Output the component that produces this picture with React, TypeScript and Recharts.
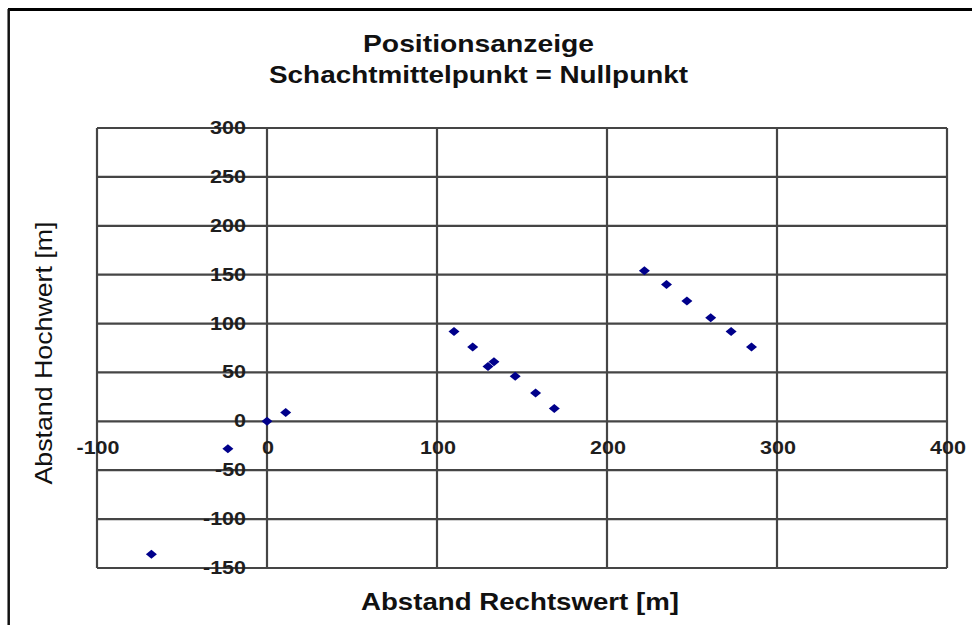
import React from "react";
import { ScatterChart, Scatter, XAxis, YAxis, CartesianGrid } from "recharts";

// Abstand Rechtswert / Hochwert [m] of each measured position
const rechtswert = [-68, -23, 0, 11, 110, 121, 130, 133.5, 146, 158, 169, 222, 235, 247, 261, 273, 285];
const hochwert = [-136, -28, 0, 9, 92, 76, 56, 61, 46, 29, 13, 154, 140, 123, 106, 92, 76];

const xTicks = [-100, 0, 100, 200, 300, 400];
const yTicks = [-150, -100, -50, 0, 50, 100, 150, 200, 250, 300];

const titleLines = ["Positionsanzeige", "Schachtmittelpunkt = Nullpunkt"];
const xTitle = "Abstand Rechtswert [m]";
const yTitle = "Abstand Hochwert [m]";

const points = rechtswert.map((x, i) => ({ x, y: hochwert[i] }));

const W = 972;
const H = 625;
const margin = { top: 128, right: 25, bottom: 56, left: 96 };
const xDomain: [number, number] = [-100, 400];
const yDomain: [number, number] = [-150, 300];

// plot area, used to put the tick labels next to the zero lines like Excel does
const plotLeft = margin.left + 1;
const plotW = W - margin.left - 1 - margin.right;
const plotTop = margin.top;
const plotH = H - margin.top - margin.bottom - 1;
const zeroX = plotLeft + ((0 - xDomain[0]) / (xDomain[1] - xDomain[0])) * plotW;
const zeroY = plotTop + ((yDomain[1] - 0) / (yDomain[1] - yDomain[0])) * plotH;

const font = "'Liberation Sans', Arial, sans-serif";
const tickStyle = { fontFamily: font, fontSize: 17.5, fontWeight: 700, fill: "#1e1e1e" };

// the old bitmap font is wider than Arial: 12px per digit, 7px for the minus
const labelWidth = (v: number) =>
  String(v).split("").reduce((w, c) => w + (c === "-" ? 7 : 12), 0);

const XTick = (props: any) => {
  const { x, payload } = props;
  return (
    <text
      x={x + 1}
      y={zeroY + 33}
      textAnchor="middle"
      textLength={labelWidth(payload.value)}
      lengthAdjust="spacingAndGlyphs"
      style={tickStyle}
    >
      {payload.value}
    </text>
  );
};

const YTick = (props: any) => {
  const { y, payload } = props;
  return (
    <text
      x={zeroX - 21}
      y={y + 6}
      textAnchor="end"
      textLength={labelWidth(payload.value)}
      lengthAdjust="spacingAndGlyphs"
      style={tickStyle}
    >
      {payload.value}
    </text>
  );
};

const Diamond = (props: any) => {
  const { cx, cy } = props;
  if (cx == null || cy == null) return null;
  return (
    <polygon
      points={`${cx},${cy - 4.5} ${cx + 5.5},${cy} ${cx},${cy + 4.5} ${cx - 5.5},${cy}`}
      fill="#00008b"
    />
  );
};

export default function App() {
  return (
    <div style={{ position: "absolute", left: 0, top: 0, width: W, height: H, background: "#fff" }}>
      <ScatterChart width={W} height={H} margin={margin}>
        <CartesianGrid stroke="#454545" strokeWidth={2.2} />
        <XAxis
          type="number"
          dataKey="x"
          domain={xDomain}
          ticks={xTicks}
          interval={0}
          height={1}
          axisLine={false}
          tickLine={false}
          tick={<XTick />}
          allowDataOverflow
        />
        <YAxis
          type="number"
          dataKey="y"
          domain={yDomain}
          ticks={yTicks}
          interval={0}
          width={1}
          axisLine={false}
          tickLine={false}
          tick={<YTick />}
          allowDataOverflow
        />
        <Scatter data={points} shape={<Diamond />} isAnimationActive={false} />
      </ScatterChart>
      <svg
        width={W}
        height={H}
        style={{ position: "absolute", left: 0, top: 0, pointerEvents: "none" }}
      >
        <line x1={8} y1={9.5} x2={W} y2={9.5} stroke="#000" strokeWidth={3} />
        <line x1={8.7} y1={9} x2={8.7} y2={H} stroke="#111" strokeWidth={2.5} />
        <text
          x={478.5}
          y={52}
          textAnchor="middle"
          textLength={231}
          lengthAdjust="spacingAndGlyphs"
          style={{ fontFamily: font, fontSize: 24, fontWeight: 700, fill: "#111" }}
        >
          {titleLines[0]}
        </text>
        <text
          x={478.5}
          y={83}
          textAnchor="middle"
          textLength={419}
          lengthAdjust="spacingAndGlyphs"
          style={{ fontFamily: font, fontSize: 24, fontWeight: 700, fill: "#111" }}
        >
          {titleLines[1]}
        </text>
        <text
          x={520}
          y={610}
          textAnchor="middle"
          textLength={318}
          lengthAdjust="spacingAndGlyphs"
          style={{ fontFamily: font, fontSize: 24, fontWeight: 700, fill: "#111" }}
        >
          {xTitle}
        </text>
        <text
          x={52}
          y={353}
          textAnchor="middle"
          textLength={263}
          lengthAdjust="spacingAndGlyphs"
          transform="rotate(-90 52 353)"
          style={{ fontFamily: font, fontSize: 24, fontWeight: 400, fill: "#111" }}
        >
          {yTitle}
        </text>
      </svg>
    </div>
  );
}
